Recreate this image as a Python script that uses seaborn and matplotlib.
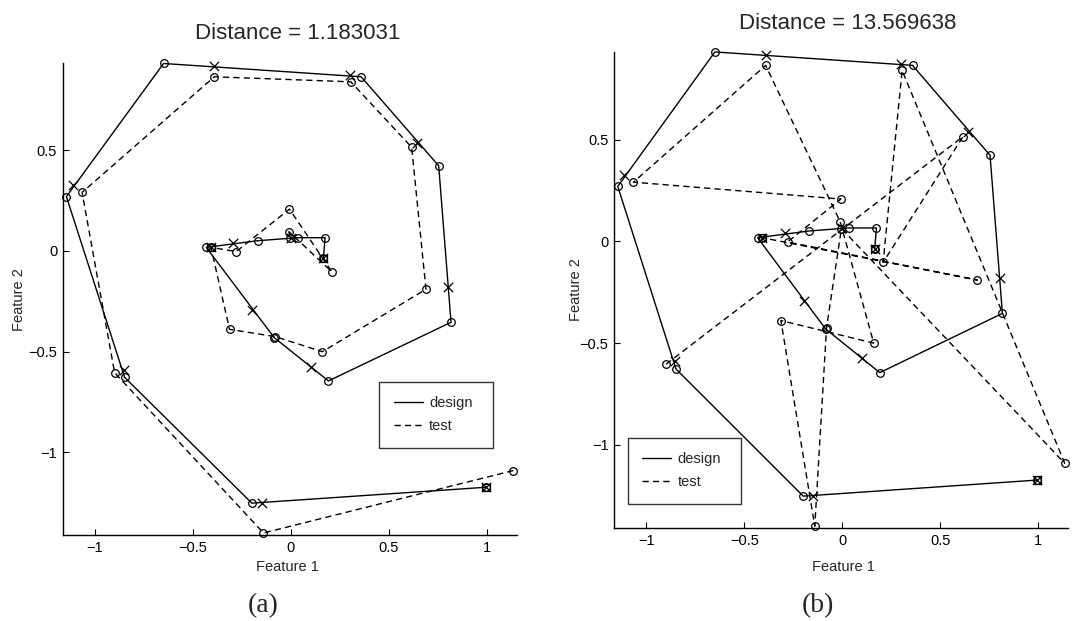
import numpy as np
import pandas as pd
import seaborn as sns
import matplotlib.pyplot as plt
from matplotlib.lines import Line2D

sns.set_theme(style='white')
plt.rcParams['font.family'] = ['Liberation Sans', 'DejaVu Sans']

# design trajectory (same in both panels)
design_x = [0.166, 0.175, 0.034, -0.170, -0.432, -0.085, 0.192, 0.818, 0.755, 0.359, -0.650, -1.146, -0.849, -0.199, 0.996]
design_y = [-0.036, 0.066, 0.066, 0.051, 0.018, -0.430, -0.645, -0.354, 0.423, 0.865, 0.931, 0.270, -0.627, -1.252, -1.173]

# test trajectory, panel (a): points in their true order
test_a_x = [1.136, -0.140, -0.900, -1.066, -0.391, 0.306, 0.617, 0.690, 0.161, -0.080, -0.313, -0.408, -0.279, -0.007, 0.209, -0.010, -0.004]
test_a_y = [-1.090, -1.400, -0.604, 0.291, 0.865, 0.840, 0.515, -0.190, -0.500, -0.425, -0.389, 0.018, -0.003, 0.208, -0.103, 0.096, 0.063]

# test trajectory, panel (b): same points, shuffled order
test_b_x = [-0.900, 0.617, 0.209, 0.306, 1.136, -0.004, -0.080, -0.140, -0.313, 0.161, -0.010, -0.391, -1.066, -0.007, -0.279, 0.690, -0.408]
test_b_y = [-0.604, 0.515, -0.103, 0.840, -1.090, 0.063, -0.425, -1.400, -0.389, -0.500, 0.096, 0.865, 0.291, 0.208, -0.003, -0.190, 0.018]

# nearest points on the design curve (x marks)
proj_x = [0.996, -0.148, -0.854, -1.112, -0.391, 0.302, 0.643, 0.804, 0.102, -0.196, -0.408, -0.293, 0.000, 0.166]
proj_y = [-1.173, -1.249, -0.590, 0.328, 0.918, 0.873, 0.537, -0.180, -0.574, -0.293, 0.018, 0.041, 0.066, -0.036]

# boxed end markers
box_x = [0.996, 0.166, -0.408]
box_y = [-1.173, -0.036, 0.018]

titles = ['Distance = 1.183031', 'Distance = 13.569638']
panel_tags = ['(a)', '(b)']

fig = plt.figure(figsize=(10.83, 6.21), dpi=100)
axes = [fig.add_axes([0.0579, 0.1385, 0.4195, 0.7596]),
        fig.add_axes([0.5670, 0.1493, 0.4195, 0.7674])]

tests = [(test_a_x, test_a_y), (test_b_x, test_b_y)]
title_pos = [(0.518, 1.064), (0.514, 1.060)]
ylab_x = [-0.096, -0.084]
xlab_pos = [(0.495, -0.068), (0.504, -0.081)]
legend_box = [(0.697, 0.1766, 0.2495, 0.1484), (0.030, 0.0405, 0.249, 0.1495)]
tag_x = [263 / 1083, 818 / 1083]

line_kw = dict(color='black', lw=1.0, marker='o', mfc='none', mec='black', ms=5.5, mew=0.9, clip_on=False)

for i, ax in enumerate(axes):
    tx, ty = tests[i]
    sns.lineplot(x=design_x, y=design_y, sort=False, estimator=None, ax=ax, **line_kw)
    sns.lineplot(x=tx, y=ty, sort=False, estimator=None, ax=ax, linestyle=(0, (4.5, 3)), **line_kw)
    sns.scatterplot(x=proj_x, y=proj_y, marker='x', color='black', s=45, linewidth=0.9, ax=ax,
                    zorder=4, clip_on=False)
    sns.scatterplot(x=box_x, y=box_y, marker='s', facecolor='none', edgecolor='black', s=28,
                    linewidth=0.9, ax=ax, zorder=4, clip_on=False)

    ax.set_xlim(-1.165, 1.155)
    ax.set_ylim(-1.41, 0.932)
    ax.set_xticks([-1, -0.5, 0, 0.5, 1])
    ax.set_xticklabels(['−1', '−0.5', '0', '0.5', '1'])
    ax.set_yticks([-1, -0.5, 0, 0.5])
    ax.set_yticklabels(['−1', '−0.5', '0', '0.5'])
    ax.tick_params(direction='in', length=4, width=0.8, labelsize=10.5, colors='black', pad=4,
                   left=True, bottom=True, top=False, right=False)
    for s in ['top', 'right']:
        ax.spines[s].set_visible(False)
    for s in ['left', 'bottom']:
        ax.spines[s].set_color('black')
        ax.spines[s].set_linewidth(1.0)

    ax.set_title(titles[i], fontsize=16, x=title_pos[i][0], y=title_pos[i][1], va='center', pad=0)
    ax.set_xlabel('Feature 1', fontsize=10.5, va='center')
    ax.set_ylabel('Feature 2', fontsize=10.5, va='center', ha='center')
    ax.xaxis.set_label_coords(*xlab_pos[i])
    ax.yaxis.set_label_coords(ylab_x[i], 0.5)

    handles = [Line2D([], [], color='black', lw=1.0),
               Line2D([], [], color='black', lw=1.0, linestyle=(0, (4.5, 3)))]
    leg = ax.legend(handles, ['design', 'test'], loc='upper left', bbox_to_anchor=legend_box[i],
                    mode='expand', fontsize=10.5, frameon=True, fancybox=False, handlelength=2.0,
                    handletextpad=0.4, labelspacing=0.6, borderpad=1.0, borderaxespad=0)
    leg.get_frame().set_edgecolor('black')
    leg.get_frame().set_linewidth(1.0)

    fig.text(tag_x[i], 0.024, panel_tags[i], fontsize=20, ha='center', va='center',
             family=['Liberation Serif', 'DejaVu Serif'])

fig.savefig('out.png', dpi=100)
